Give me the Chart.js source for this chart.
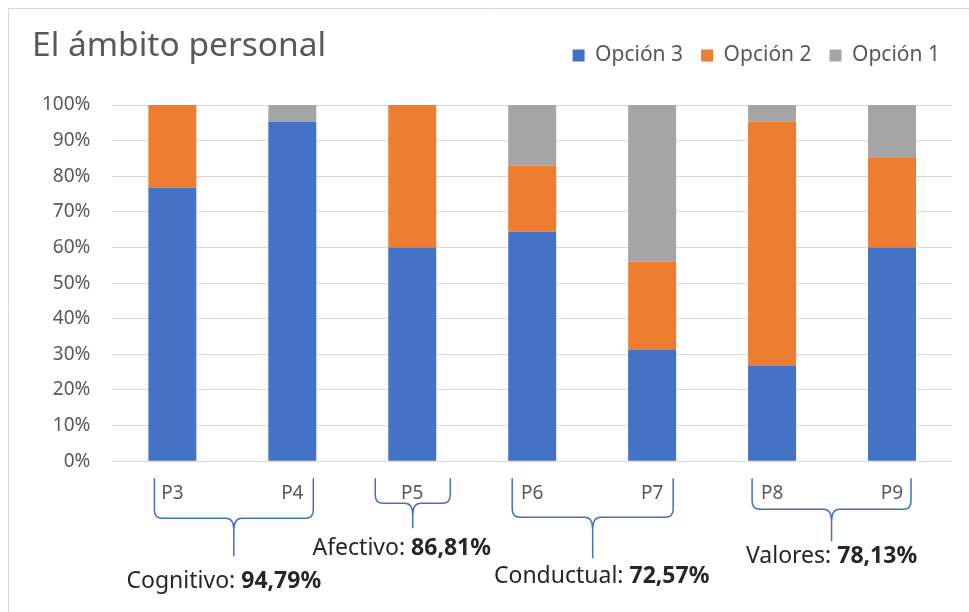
<!DOCTYPE html>
<html>
<head>
<meta charset="utf-8">
<script src="https://cdn.jsdelivr.net/npm/chart.js@4"></script>
<style>
  html, body { margin: 0; padding: 0; background: #fff; }
  #wrap { position: relative; width: 969px; height: 612px; }
</style>
</head>
<body>
<div id="wrap"><canvas id="chart" width="969" height="612"></canvas></div>
<script>
// datos (porcentaje de respuestas)
const categories = ['P3', 'P4', 'P5', 'P6', 'P7', 'P8', 'P9']
const opcion3 = [76.8, 95.3, 60.0, 64.4, 31.2, 26.7, 60.0]
const opcion2 = [23.2, 0, 40.0, 18.6, 24.8, 68.7, 25.3]
const opcion1 = [0, 4.7, 0, 17.0, 44.0, 4.6, 14.7]
const yTicks = [0, 10, 20, 30, 40, 50, 60, 70, 80, 90, 100]

// dimensiones (grupos de preguntas)
const groupNames = ['Cognitivo', 'Afectivo', 'Conductual', 'Valores']
const groupValues = ['94,79%', '86,81%', '72,57%', '78,13%']
const groupFrom = [0, 2, 3, 5]
const groupTo = [1, 2, 4, 6]

const FONT = "'Noto Sans', 'Open Sans', sans-serif"

// geometria de las llaves (px respecto a las barras y al eje)
const braceLayout = [
    { left: -18, right: 21, bar: 57, tip: 95, labelDx: -10, labelY: 120 },
    { left: -37, right: 38, bar: 42, tip: 67, labelDx: -11, labelY: 87 },
    { left: -20, right: 21, bar: 56, tip: 97, labelDx: 9, labelY: 115 },
    { left: -20, right: 19, bar: 48, tip: 80, labelDx: 0, labelY: 95 }
]

const decorPlugin = {
    id: 'decor',
    afterLayout(chart) {
        // la leyenda de Excel llega casi al borde derecho
        chart.legend.left += 6
        chart.legend.right += 6
    },
    beforeDraw(chart) {
        const ctx = chart.ctx
        ctx.save()
        ctx.strokeStyle = '#d9d9d9'
        ctx.lineWidth = 1
        ctx.beginPath()
        ctx.moveTo(8.5, 612)
        ctx.lineTo(8.5, 8.5)
        ctx.lineTo(969, 8.5)
        ctx.stroke()
        // titulo
        ctx.fillStyle = '#595959'
        ctx.font = `33.5px ${FONT}`
        ctx.textBaseline = 'middle'
        ctx.textAlign = 'left'
        ctx.fillText('El ámbito personal', 32, 46)
        ctx.restore()
    },
    afterDraw(chart) {
        const ctx = chart.ctx
        const x = chart.scales.x
        const y0 = chart.chartArea.bottom
        ctx.save()
        ctx.strokeStyle = '#4472C4'
        ctx.lineWidth = 1.5
        groupNames.forEach((name, i) => {
            const L = braceLayout[i]
            const xl = x.getPixelForValue(groupFrom[i]) + L.left
            const xr = x.getPixelForValue(groupTo[i]) + L.right
            const xm = (xl + xr) / 2
            const top = y0 + 17
            const hy = y0 + L.bar
            const ty = y0 + L.tip
            const r = 8
            ctx.beginPath()
            ctx.moveTo(xl, top)
            ctx.lineTo(xl, hy - r)
            ctx.quadraticCurveTo(xl, hy, xl + r, hy)
            ctx.lineTo(xm - r, hy)
            ctx.quadraticCurveTo(xm, hy, xm, hy + r * 1.5)
            ctx.lineTo(xm, ty)
            ctx.moveTo(xm, hy + r * 1.5)
            ctx.quadraticCurveTo(xm, hy, xm + r, hy)
            ctx.lineTo(xr - r, hy)
            ctx.quadraticCurveTo(xr, hy, xr, hy - r)
            ctx.lineTo(xr, top)
            ctx.stroke()

            // etiqueta: nombre normal + valor en negrita
            const normal = name + ': '
            ctx.font = `23px ${FONT}`
            const w1 = ctx.measureText(normal).width
            ctx.font = `bold 23px ${FONT}`
            const w2 = ctx.measureText(groupValues[i]).width
            const cx = xm + L.labelDx
            const sx = cx - (w1 + w2) / 2
            const ly = y0 + L.labelY
            ctx.textBaseline = 'middle'
            ctx.textAlign = 'left'
            ctx.fillStyle = '#262626'
            ctx.font = `23px ${FONT}`
            ctx.fillText(normal, sx, ly)
            ctx.font = `bold 23px ${FONT}`
            ctx.fillText(groupValues[i], sx + w1, ly)
        })
        ctx.restore()
    }
}

const ctx = document.getElementById('chart').getContext('2d')

new Chart(ctx, {
    type: 'bar',
    data: {
        labels: categories,
        datasets: [
            { label: 'Opción 3', data: opcion3, backgroundColor: '#4472C4' },
            { label: 'Opción 2', data: opcion2, backgroundColor: '#ED7D31' },
            { label: 'Opción 1', data: opcion1, backgroundColor: '#A5A5A5' }
        ]
    },
    options: {
        responsive: false,
        animation: false,
        layout: { padding: { top: 27, left: 20, right: 17, bottom: 94 } },
        datasets: { bar: { barPercentage: 0.4, categoryPercentage: 1.0 } },
        plugins: {
            legend: {
                position: 'top',
                align: 'end',
                labels: {
                    boxWidth: 12,
                    boxHeight: 12,
                    color: '#595959',
                    font: { family: FONT, size: 21 },
                    padding: 18
                }
            },
            // espacio vacio entre la leyenda y el area del grafico
            subtitle: {
                display: true,
                text: ' ',
                weight: 0,
                padding: 0,
                font: { size: 10, lineHeight: 2.9 }
            },
            tooltip: { enabled: false }
        },
        scales: {
            x: {
                stacked: true,
                grid: { display: false },
                border: { display: false },
                ticks: { color: '#595959', font: { family: FONT, size: 19 }, padding: 13 }
            },
            y: {
                stacked: true,
                min: 0,
                max: 100,
                afterBuildTicks: axis => { axis.ticks = yTicks.map(v => ({ value: v })) },
                grid: { color: '#d9d9d9', drawTicks: false },
                border: { display: false },
                ticks: {
                    color: '#595959',
                    font: { family: FONT, size: 19 },
                    padding: 22,
                    callback: v => v + '%'
                }
            }
        }
    },
    plugins: [decorPlugin]
})
</script>
</body>
</html>
